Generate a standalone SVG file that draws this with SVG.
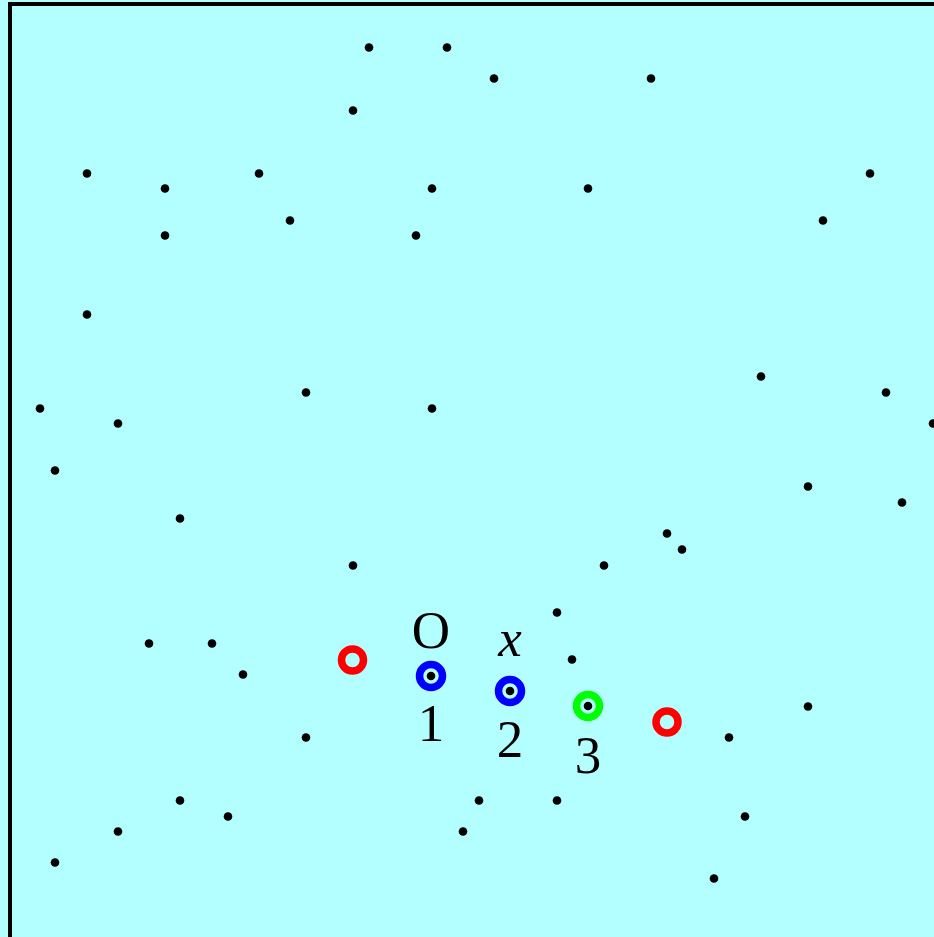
<svg xmlns="http://www.w3.org/2000/svg" width="934" height="937" viewBox="0 0 934 937">
<style>
.d{fill:#000}
.ring{fill:none;stroke-width:7.5}
text{font-family:"Liberation Serif","DejaVu Serif",serif;font-size:53px;fill:#000;text-anchor:middle}
</style>
<defs>
<circle id="dot" r="4.3"/>
</defs>
<rect x="0" y="0" width="934" height="937" fill="#b3ffff"/>
<path d="M10,937 V4 H934" fill="none" stroke="#000" stroke-width="4"/>
<g id="dots" class="d">
<use href="#dot" x="369" y="47.5"/><use href="#dot" x="447" y="47.5"/><use href="#dot" x="494" y="78.5"/><use href="#dot" x="651" y="78.5"/>
<use href="#dot" x="353" y="110.5"/><use href="#dot" x="87" y="173.5"/><use href="#dot" x="165" y="188.5"/><use href="#dot" x="259" y="173.5"/>
<use href="#dot" x="432" y="188.5"/><use href="#dot" x="588" y="188.5"/><use href="#dot" x="870" y="173.5"/><use href="#dot" x="165" y="235.5"/>
<use href="#dot" x="290" y="220.5"/><use href="#dot" x="416" y="235.5"/><use href="#dot" x="823" y="220.5"/><use href="#dot" x="87" y="314.5"/>
<use href="#dot" x="761" y="376.5"/><use href="#dot" x="886" y="392.5"/><use href="#dot" x="40" y="408.5"/><use href="#dot" x="118" y="423.5"/>
<use href="#dot" x="306" y="392.5"/><use href="#dot" x="432" y="408.5"/><use href="#dot" x="933" y="423.5"/><use href="#dot" x="55" y="470.5"/>
<use href="#dot" x="808" y="486.5"/><use href="#dot" x="902" y="502.5"/><use href="#dot" x="180" y="518.5"/><use href="#dot" x="667" y="533.5"/>
<use href="#dot" x="682" y="549.5"/><use href="#dot" x="353" y="565.5"/><use href="#dot" x="604" y="565.5"/><use href="#dot" x="557" y="612.5"/>
<use href="#dot" x="149" y="643.5"/><use href="#dot" x="212" y="643.5"/><use href="#dot" x="243" y="674.5"/><use href="#dot" x="572" y="659.5"/>
<use href="#dot" x="808" y="706.5"/><use href="#dot" x="306" y="737.5"/><use href="#dot" x="729" y="737.5"/><use href="#dot" x="180" y="800.5"/>
<use href="#dot" x="228" y="816.5"/><use href="#dot" x="479" y="800.5"/><use href="#dot" x="557" y="800.5"/><use href="#dot" x="745" y="816.5"/>
<use href="#dot" x="118" y="831.5"/><use href="#dot" x="463" y="831.5"/><use href="#dot" x="55" y="862.5"/><use href="#dot" x="714" y="878.5"/>
</g>
<g id="red1"><circle class="ring" cx="352.5" cy="660" r="11" stroke="#ff0000"/></g>
<g id="red2"><circle class="ring" cx="667" cy="722" r="11" stroke="#ff0000"/></g>
<g id="p1"><circle class="ring" cx="431" cy="676" r="11.5" stroke="#0000ff"/><circle class="d" cx="431" cy="676" r="4.3"/><text x="431" y="648">O</text><text x="431" y="741">1</text></g>
<g id="p2"><circle class="ring" cx="510" cy="691" r="11.5" stroke="#0000ff"/><circle class="d" cx="510" cy="691" r="4.3"/><text x="510" y="656" font-style="italic">x</text><text x="510" y="757">2</text></g>
<g id="p3"><circle class="ring" cx="588" cy="706" r="11.5" stroke="#00ff00"/><circle class="d" cx="588" cy="706" r="4.3"/><text x="588" y="773">3</text></g>
</svg>
